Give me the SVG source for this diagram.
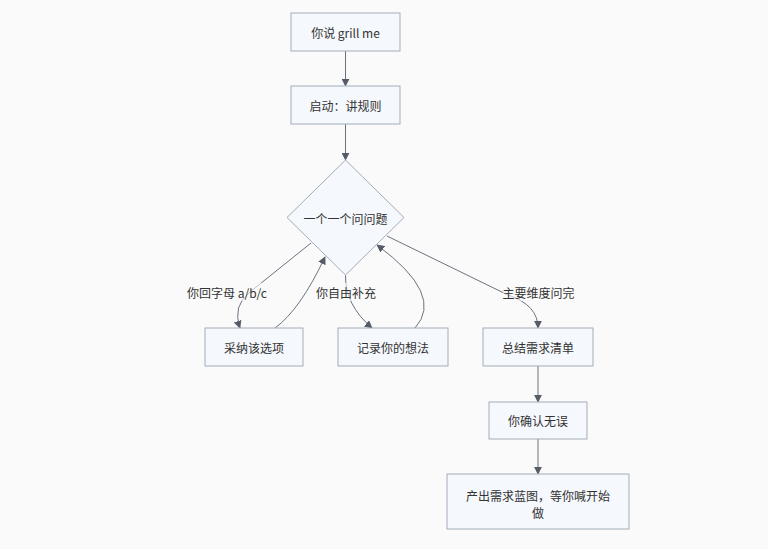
<svg xmlns="http://www.w3.org/2000/svg" width="768" height="549" viewBox="0 0 768 549">
<defs>
<style>
.n{fill:#f5f8fc;stroke:#a3acb9;stroke-width:1}
.t{font-family:"Noto Sans CJK SC","Liberation Sans",sans-serif;font-size:12px;fill:#333;text-anchor:middle;dominant-baseline:central}
.e{fill:none;stroke:#6b7280;stroke-width:1}
.lb{fill:#fafafa;opacity:0.6}
</style>
<marker id="ah" viewBox="0 0 10 10" refX="9" refY="5" markerWidth="8" markerHeight="8" orient="auto-start-reverse" markerUnits="userSpaceOnUse">
<path d="M0,0L10,5L0,10z" fill="#555c68"/>
</marker>
</defs>
<rect width="768" height="549" fill="#fafafa"/>
<g id="edges">
<path class="e" d="M345.5,51V86" marker-end="url(#ah)"/>
<path class="e" d="M345.5,124V160" marker-end="url(#ah)"/>
<path class="e" d="M311,243L250,292Q232,306 240,328" marker-end="url(#ah)"/>
<path class="e" d="M275,328Q300,310 325,257" marker-end="url(#ah)"/>
<path class="e" d="M345.5,275Q345,305 372,328" marker-end="url(#ah)"/>
<path class="e" d="M415,328Q445,295 377,245" marker-end="url(#ah)"/>
<path class="e" d="M387,236L508,295Q538,305 538,328" marker-end="url(#ah)"/>
<path class="e" d="M538,366V402" marker-end="url(#ah)"/>
<path class="e" d="M538,439V474" marker-end="url(#ah)"/>
</g>
<g id="labels">
<rect class="lb" x="186" y="283" width="82" height="18"/>
<text class="t" x="227" y="292">你回字母 a/b/c</text>
<rect class="lb" x="316" y="283" width="60" height="18"/>
<text class="t" x="346" y="292">你自由补充</text>
<rect class="lb" x="503" y="283" width="72" height="18"/>
<text class="t" x="538.5" y="292">主要维度问完</text>
</g>
<g id="n1"><rect class="n" x="291" y="13" width="109" height="38"/><text class="t" x="345.5" y="32">你说 grill me</text></g>
<g id="n2"><rect class="n" x="291" y="86" width="109" height="38"/><text class="t" x="345.5" y="105">启动：讲规则</text></g>
<g id="n3"><polygon class="n" points="345.5,160 404,217.5 345.5,275 287,217.5"/><text class="t" x="345.5" y="218">一个一个问问题</text></g>
<g id="n4"><rect class="n" x="205" y="328" width="98" height="38"/><text class="t" x="254" y="347">采纳该选项</text></g>
<g id="n5"><rect class="n" x="338" y="328" width="110" height="38"/><text class="t" x="393" y="347">记录你的想法</text></g>
<g id="n6"><rect class="n" x="483" y="328" width="110" height="38"/><text class="t" x="538" y="347">总结需求清单</text></g>
<g id="n7"><rect class="n" x="489" y="402" width="98" height="37"/><text class="t" x="538" y="420.5">你确认无误</text></g>
<g id="n8"><rect class="n" x="447" y="474" width="182" height="55"/><text class="t" x="538" y="495">产出需求蓝图，等你喊开始</text><text class="t" x="538" y="512">做</text></g>
</svg>
